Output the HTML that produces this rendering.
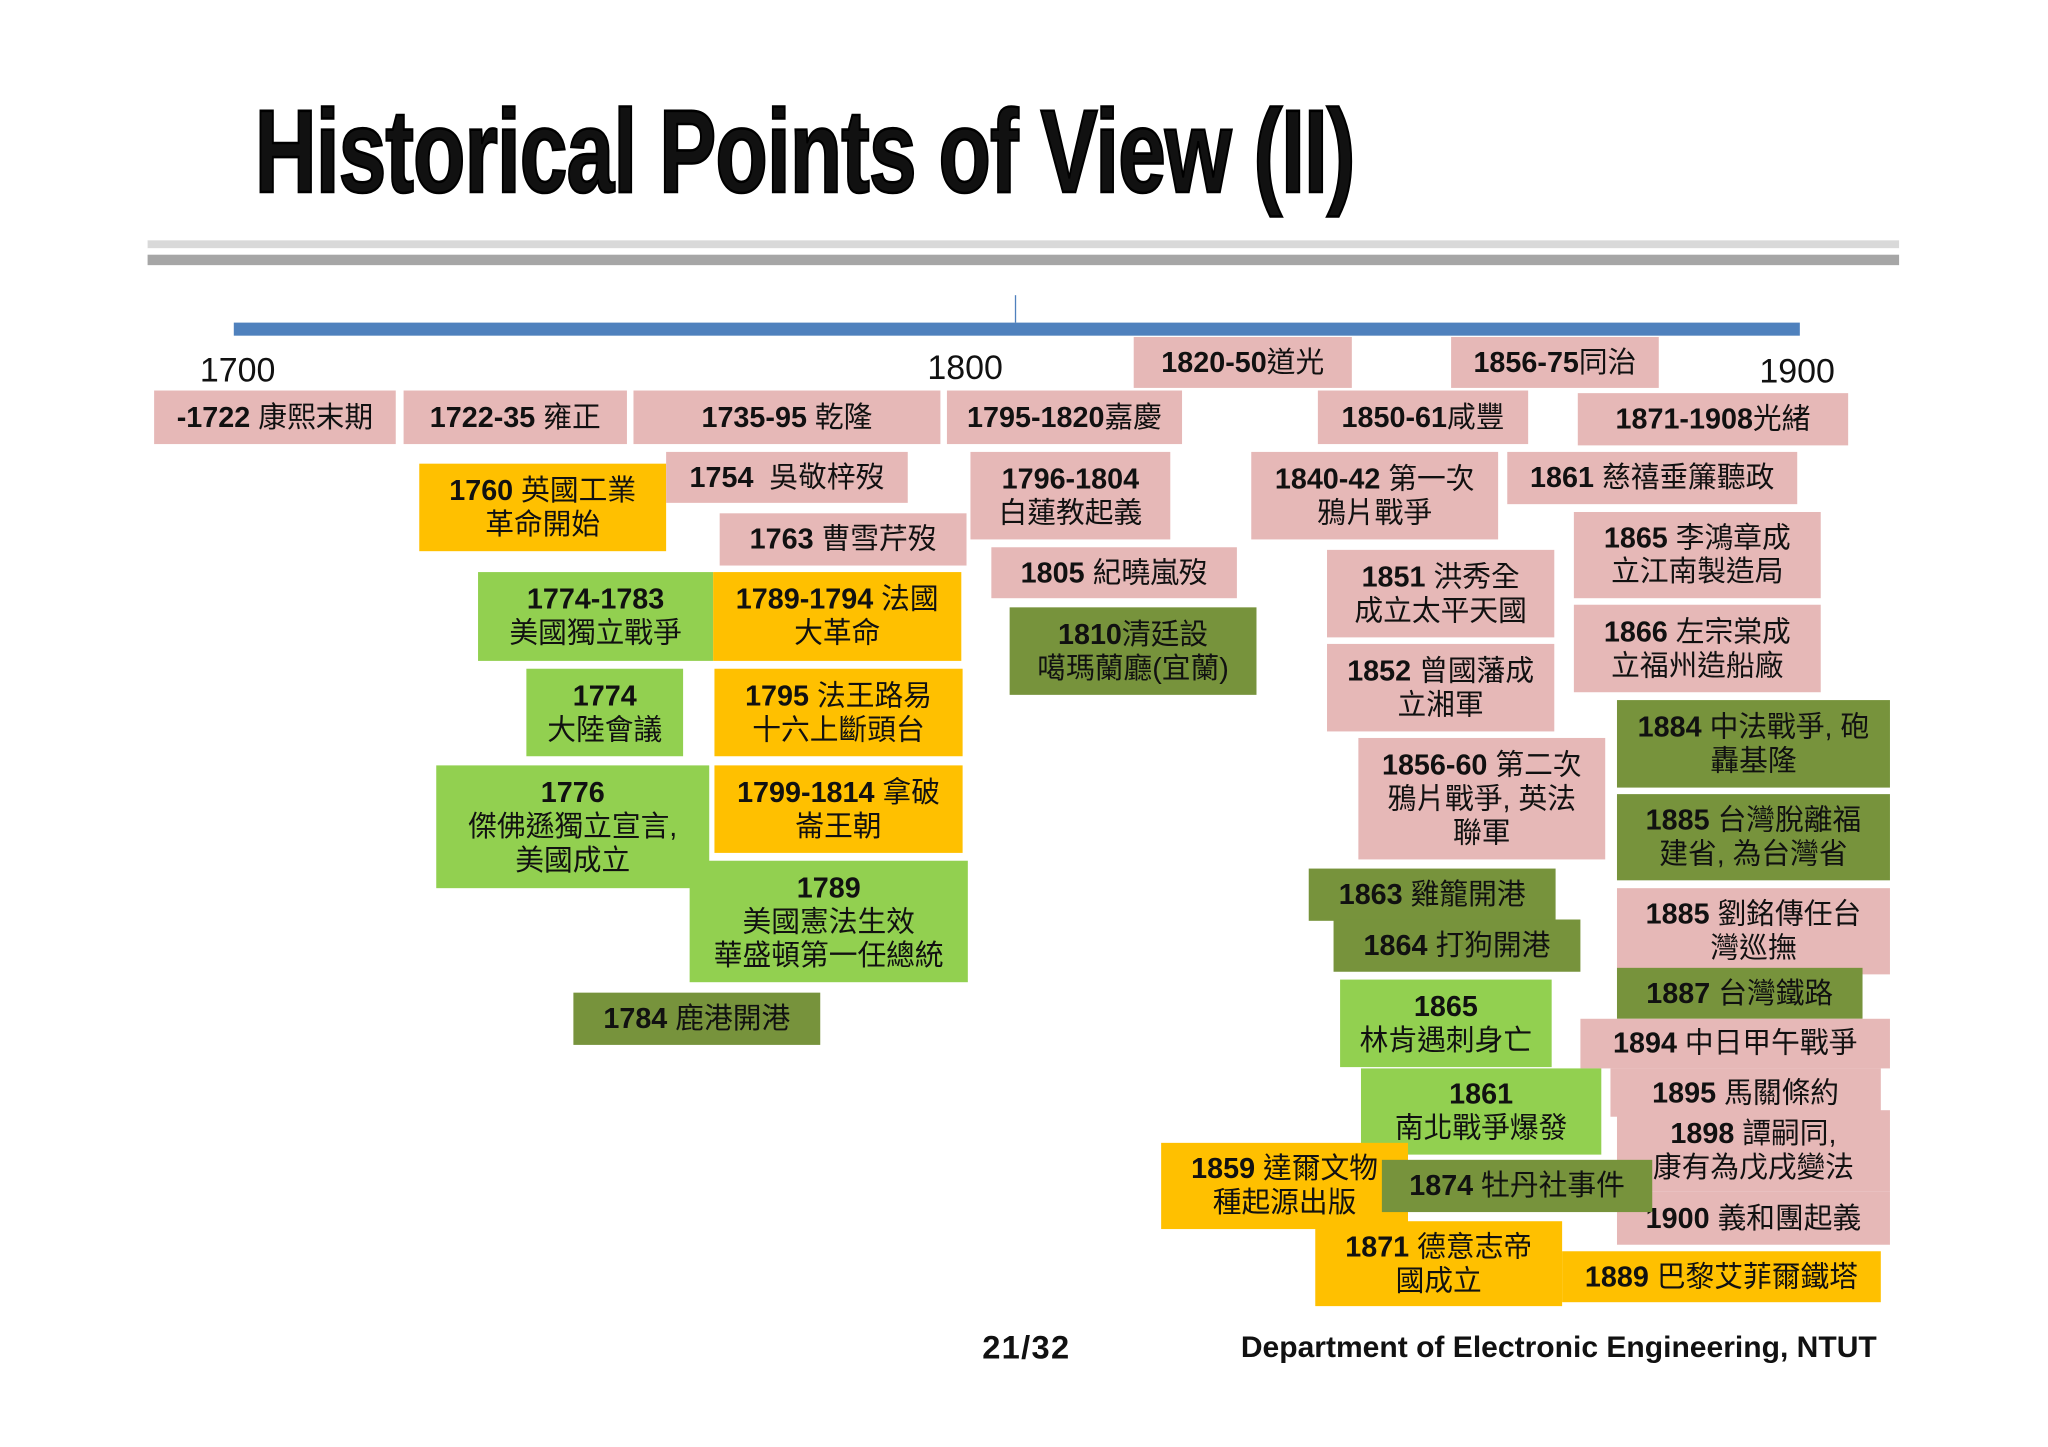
<!DOCTYPE html>
<html><head><meta charset="utf-8">
<style>
html,body{margin:0;padding:0;background:#fff;}
#page{position:relative;width:2048px;height:1447px;overflow:hidden;background:#fff;}
#stage{position:absolute;left:0;top:0;width:1568px;height:1108px;transform:scale(1.30612);transform-origin:0 0;font-family:"Liberation Sans","Noto Sans CJK TC",sans-serif;color:#111;}
.b{position:absolute;display:flex;align-items:center;justify-content:center;text-align:center;font-size:22px;line-height:26px;white-space:nowrap;box-sizing:border-box;}
.b b{font-weight:bold;}
.p{background:#e6b8b7;}
.o{background:#ffc000;}
.g{background:#92d050;}
.d{background:#77933c;}
.lbl{position:absolute;font-size:26px;}
</style></head><body>
<div id="page">
<div id="stage">
<div style="position:absolute;left:195px;top:72px;font-family:'Liberation Sans',sans-serif;font-weight:bold;font-size:90px;line-height:90px;transform:scaleX(0.73);transform-origin:0 0;letter-spacing:-1px;white-space:nowrap;-webkit-text-stroke:2px #000;">Historical Points of View (II)</div>
<div style="position:absolute;left:113px;top:184px;width:1341px;height:6px;background:#d9d9d9;"></div>
<div style="position:absolute;left:113px;top:195px;width:1341px;height:8px;background:#a6a6a6;"></div>
<div style="position:absolute;left:179px;top:247px;width:1199px;height:10px;background:#4f81bd;"></div>
<div style="position:absolute;left:777px;top:226px;width:1px;height:21px;background:#4f81bd;"></div>
<div class="lbl" style="left:153px;top:268px;">1700</div>
<div class="lbl" style="left:710px;top:266px;">1800</div>
<div class="lbl" style="left:1347px;top:269px;">1900</div>

<div class="b p" style="left:118px;top:299px;width:185px;height:41px;"><span><b>-1722</b> 康熙末期</span></div>
<div class="b p" style="left:309px;top:299px;width:171px;height:41px;"><span><b>1722-35</b> 雍正</span></div>
<div class="b p" style="left:485px;top:299px;width:235px;height:41px;"><span><b>1735-95</b> 乾隆</span></div>
<div class="b p" style="left:725px;top:299px;width:180px;height:41px;"><span><b>1795-1820</b>嘉慶</span></div>
<div class="b p" style="left:868px;top:258px;width:167px;height:39px;"><span><b>1820-50</b>道光</span></div>
<div class="b p" style="left:1111px;top:258px;width:159px;height:39px;"><span><b>1856-75</b>同治</span></div>
<div class="b p" style="left:1009px;top:299px;width:161px;height:41px;"><span><b>1850-61</b>咸豐</span></div>
<div class="b p" style="left:1208px;top:301px;width:207px;height:40px;"><span><b>1871-1908</b>光緒</span></div>

<div class="b o" style="left:321px;top:355px;width:189px;height:67px;"><span><b>1760</b> 英國工業<br>革命開始</span></div>
<div class="b p" style="left:510px;top:346px;width:185px;height:39px;"><span><b>1754</b>&nbsp; 吳敬梓歿</span></div>
<div class="b p" style="left:551px;top:393px;width:189px;height:40px;"><span><b>1763</b> 曹雪芹歿</span></div>
<div class="b p" style="left:743px;top:346px;width:153px;height:67px;"><span><b>1796-1804</b><br>白蓮教起義</span></div>
<div class="b p" style="left:759px;top:419px;width:188px;height:39px;"><span><b>1805</b> 紀曉嵐歿</span></div>
<div class="b d" style="left:773px;top:465px;width:189px;height:67px;"><span><b>1810</b>清廷設<br>噶瑪蘭廳(宜蘭)</span></div>
<div class="b p" style="left:958px;top:346px;width:189px;height:67px;"><span><b>1840-42</b> 第一次<br>鴉片戰爭</span></div>
<div class="b p" style="left:1154px;top:346px;width:222px;height:40px;"><span><b>1861</b> 慈禧垂簾聽政</span></div>
<div class="b p" style="left:1205px;top:392px;width:189px;height:66px;"><span><b>1865</b> 李鴻章成<br>立江南製造局</span></div>
<div class="b p" style="left:1205px;top:463px;width:189px;height:67px;"><span><b>1866</b> 左宗棠成<br>立福州造船廠</span></div>
<div class="b p" style="left:1016px;top:421px;width:174px;height:67px;"><span><b>1851</b> 洪秀全<br>成立太平天國</span></div>
<div class="b p" style="left:1016px;top:493px;width:174px;height:67px;"><span><b>1852</b> 曾國藩成<br>立湘軍</span></div>
<div class="b p" style="left:1040px;top:565px;width:189px;height:93px;"><span><b>1856-60</b> 第二次<br>鴉片戰爭, 英法<br>聯軍</span></div>

<div class="b g" style="left:366px;top:438px;width:180px;height:68px;"><span><b>1774-1783</b><br>美國獨立戰爭</span></div>
<div class="b o" style="left:546px;top:438px;width:190px;height:68px;"><span><b>1789-1794</b> 法國<br>大革命</span></div>
<div class="b g" style="left:403px;top:512px;width:120px;height:67px;"><span><b>1774</b><br>大陸會議</span></div>
<div class="b o" style="left:547px;top:512px;width:190px;height:67px;"><span><b>1795</b> 法王路易<br>十六上斷頭台</span></div>
<div class="b g" style="left:334px;top:586px;width:209px;height:94px;"><span><b>1776</b><br>傑佛遜獨立宣言,<br>美國成立</span></div>
<div class="b o" style="left:547px;top:586px;width:190px;height:67px;"><span><b>1799-1814</b> 拿破<br>崙王朝</span></div>
<div class="b g" style="left:528px;top:659px;width:213px;height:93px;"><span><b>1789</b><br>美國憲法生效<br>華盛頓第一任總統</span></div>
<div class="b d" style="left:439px;top:760px;width:189px;height:40px;"><span><b>1784</b> 鹿港開港</span></div>

<div class="b d" style="left:1238px;top:536px;width:209px;height:67px;"><span><b>1884</b> 中法戰爭, 砲<br>轟基隆</span></div>
<div class="b d" style="left:1238px;top:608px;width:209px;height:66px;"><span><b>1885</b> 台灣脫離福<br>建省, 為台灣省</span></div>
<div class="b p" style="left:1238px;top:680px;width:209px;height:66px;"><span><b>1885</b> 劉銘傳任台<br>灣巡撫</span></div>
<div class="b d" style="left:1002px;top:665px;width:189px;height:40px;"><span><b>1863</b> 雞籠開港</span></div>
<div class="b d" style="left:1021px;top:704px;width:189px;height:40px;"><span><b>1864</b> 打狗開港</span></div>
<div class="b d" style="left:1238px;top:741px;width:188px;height:39px;"><span><b>1887</b> 台灣鐵路</span></div>
<div class="b g" style="left:1026px;top:750px;width:162px;height:67px;"><span><b>1865</b><br>林肯遇刺身亡</span></div>
<div class="b p" style="left:1210px;top:780px;width:237px;height:38px;"><span><b>1894</b> 中日甲午戰爭</span></div>
<div class="b g" style="left:1042px;top:818px;width:184px;height:66px;"><span><b>1861</b><br>南北戰爭爆發</span></div>
<div class="b p" style="left:1233px;top:818px;width:207px;height:37px;"><span><b>1895</b> 馬關條約</span></div>
<div class="b p" style="left:1238px;top:850px;width:209px;height:62px;"><span><b>1898</b> 譚嗣同,<br>康有為戊戌變法</span></div>
<div class="b p" style="left:1238px;top:912px;width:209px;height:41px;"><span><b>1900</b> 義和團起義</span></div>
<div class="b o" style="left:889px;top:875px;width:189px;height:66px;"><span><b>1859</b> 達爾文物<br>種起源出版</span></div>
<div class="b d" style="left:1058px;top:888px;width:207px;height:40px;"><span><b>1874</b> 牡丹社事件</span></div>
<div class="b o" style="left:1007px;top:935px;width:189px;height:65px;"><span><b>1871</b> 德意志帝<br>國成立</span></div>
<div class="b o" style="left:1196px;top:958px;width:244px;height:39px;"><span><b>1889</b> 巴黎艾菲爾鐵塔</span></div>

<div style="position:absolute;left:752px;top:1018px;font-size:25px;font-weight:bold;letter-spacing:1px;">21/32</div>
<div style="position:absolute;left:950px;top:1018px;font-size:23px;font-weight:bold;white-space:nowrap;">Department of Electronic Engineering, NTUT</div>
</div>
</div>
</body></html>
